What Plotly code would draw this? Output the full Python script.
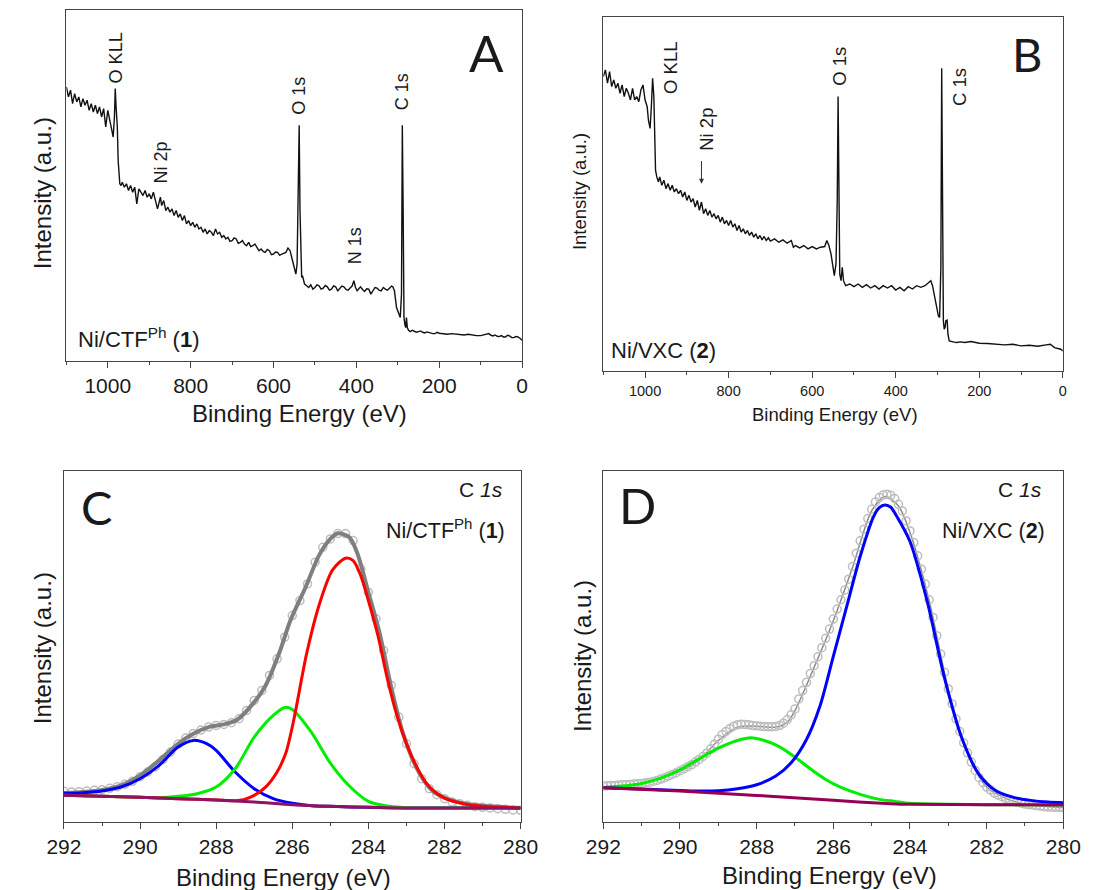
import plotly.graph_objects as go

# ---------------- Survey A: Ni/CTF^Ph (1) ----------------
A_ev = [1100,1095,1090,1085,1080,1075,1070,1065,1060,1055,1050,1045,1040,1035,1030,1025,1020,1015,1010,1005,
        1000,995,990,987,984,982,980,977,975,973,971,968,965,960,955,950,945,940,935,930,925,920,915,910,905,
        900,895,890,885,880,877,873,870,865,860,855,850,845,840,835,830,825,820,815,810,805,800,795,790,785,
        780,775,770,765,760,755,750,745,740,735,730,725,720,715,710,705,700,695,690,685,680,675,670,665,660,
        655,650,645,640,635,630,625,620,615,610,605,600,595,590,585,580,575,570,565,560,555,550,546,543,540,
        538,536,534,532,530,528,525,520,515,510,505,500,495,490,485,480,475,470,465,460,455,450,445,440,435,
        430,425,420,415,410,406,402,398,395,390,385,380,375,370,365,360,355,350,345,340,335,330,325,320,315,
        312,308,303,298,294,291,289,287,285,283,281,279,277,274,270,265,260,255,250,245,240,235,230,225,220,
        215,210,205,200,190,180,170,160,150,140,130,120,110,100,90,80,75,70,65,60,55,50,45,40,35,30,25,20,15,
        10,5,0]
A_int = [820,790,810,770,800,775,790,760,785,765,780,750,770,745,765,740,760,730,755,700,
         750,720,680,670,730,815,760,700,600,540,530,525,535,520,530,510,525,505,520,470,515,505,495,510,490,
         500,485,505,480,455,470,490,465,480,450,460,445,455,435,450,430,440,420,435,410,420,405,415,400,410,
         395,400,385,395,380,390,385,375,395,380,385,370,375,365,370,358,360,368,365,352,355,360,350,345,355,
         342,345,350,340,330,335,328,325,334,330,318,320,326,325,316,320,322,325,338,330,305,275,260,290,500,
         705,450,270,250,255,245,230,225,220,228,215,220,228,225,215,218,226,222,212,215,225,222,210,217,224,
         222,214,212,220,225,240,220,210,215,222,214,208,216,215,200,212,220,218,212,210,220,215,212,218,224,
         222,210,160,140,130,200,705,450,130,110,100,130,100,92,88,92,90,86,88,90,86,84,87,85,85,
         82,82,86,83,81,80,82,80,78,78,80,77,76,76,78,82,77,75,78,74,73,76,72,72,77,75,70,70,73,
         72,68,62]

# ---------------- Survey B: Ni/VXC (2) ----------------
B_ev = [1100,1095,1090,1085,1080,1075,1070,1065,1060,1055,1050,1045,1040,1035,1030,1025,1020,1015,1010,1005,
        1000,995,992,988,985,982,979,977,975,972,968,965,960,955,950,945,940,935,930,925,920,915,910,905,900,
        895,890,885,880,875,870,865,860,855,850,845,840,835,830,825,820,815,810,805,800,795,790,785,780,775,
        770,765,760,755,750,745,740,735,730,725,720,715,710,705,700,690,680,670,660,650,645,640,630,620,610,
        600,590,580,570,565,560,555,550,547,543,540,538,536,534,531,528,525,520,510,500,490,480,470,460,450,
        440,430,420,410,400,390,380,370,360,350,340,330,320,316,312,308,303,298,295,292,290,288,286,284,282,
        280,277,275,272,265,255,245,235,220,200,180,160,140,120,100,80,60,40,30,20,10,5,0]
B_int = [880,900,860,895,850,870,845,860,830,855,820,845,830,810,845,810,820,805,840,855,
         810,790,750,725,790,875,820,710,600,580,565,580,555,570,545,560,540,555,535,545,530,540,520,535,510,
         525,505,515,490,510,480,505,470,485,465,480,460,470,455,465,445,460,440,450,435,450,430,440,420,435,
         415,425,410,420,405,415,400,410,395,405,392,402,390,398,388,395,385,392,382,390,370,375,368,375,365,
         372,365,370,372,390,375,350,310,285,320,510,820,510,290,270,310,270,255,260,252,260,250,258,248,255,
         245,255,248,255,242,250,240,252,245,255,250,255,265,270,255,230,190,165,160,310,905,610,150,125,130,
         150,152,110,90,88,85,87,85,88,83,82,80,78,80,75,77,74,78,80,70,68,65,60]

# ---------------- C 1s, Ni/CTF^Ph (1) ----------------
C_data_ev = [292.0,291.8,291.6,291.4,291.2,291.0,290.8,290.6,290.4,290.2,290.0,289.8,289.6,289.4,289.2,289.0,
             288.8,288.6,288.4,288.2,288.0,287.8,287.6,287.4,287.2,287.0,286.8,286.6,286.4,286.2,286.0,285.8,
             285.6,285.4,285.2,285.0,284.8,284.6,284.4,284.2,284.0,283.8,283.6,283.4,283.2,283.0,282.8,282.6,
             282.4,282.2,282.0,281.8,281.6,281.4,281.2,281.0,280.8,280.6,280.4,280.2,280.0]
C_data_int = [92,90,91,93,95,97,101,106,113,122,136,150,166,188,210,234,
              252,266,276,285,290,293,298,310,335,365,395,440,490,555,620,665,
              715,780,825,850,866,866,845,760,690,610,515,410,315,235,175,130,
              100,82,70,60,55,50,46,44,42,40,38,36,35]

C_fit_ev = [292.0,291.5,291.0,290.5,290.0,289.5,289.0,288.6,288.2,287.8,287.45,287.0,286.7,286.35,286.05,285.65,
            285.3,285.0,284.8,284.5,284.3,284.0,283.7,283.4,283.1,282.7,282.3,281.6,280.8,280.0]
C_fit_int = [87,90,96,110,140,185,235,265,285,293,307,360,410,505,605,705,
             800,850,867,855,810,690,565,405,270,155,92,58,47,42]

C_bg_ev = [292.0,291.0,290.0,289.0,288.0,287.0,286.0,285.0,284.0,283.0,282.0,281.0,280.0]
C_bg_int = [80,77,74,70,66,60,52,47,44,42,42,42,42]

C_blue_ev = [292.0,291.5,291.0,290.5,290.0,289.5,289.0,288.6,288.25,288.0,287.5,287.0,286.5,286.0,285.5,285.0,
             284.0,283.0,282.0,280.0]
C_blue_int = [86,88,93,105,130,170,225,245,235,215,150,100,70,56,49,47,44,42,42,42]

C_green_ev = [292.0,291.0,290.0,289.5,289.0,288.5,288.0,287.5,287.0,286.5,286.2,286.0,285.5,285.0,284.5,284.0,
              283.5,283.0,282.0,280.0]
C_green_int = [80,77,74,73,77,85,105,160,255,320,344,338,270,177,108,62,48,43,42,42]

C_red_ev = [292.0,291.0,290.0,289.0,288.0,287.5,287.28,287.0,286.68,286.4,286.17,285.96,285.62,285.28,284.94,284.6,
            284.4,284.2,284.0,283.75,283.5,283.25,283.0,282.75,282.5,282.25,282.0,281.5,281.0,280.5,280.0]
C_red_int = [80,77,74,70,66,64,67,80,107,150,207,307,507,657,757,792,
             785,740,665,560,430,320,235,170,120,90,72,55,47,44,42]

# ---------------- C 1s, Ni/VXC (2) ----------------
D_data_ev = [292.0,291.9,291.8,291.7,291.6,291.5,291.4,291.3,291.2,291.1,291.0,290.9,290.8,290.7,290.6,290.5,
             290.4,290.3,290.2,290.1,290.0,289.9,289.8,289.7,289.6,289.5,289.4,289.3,289.2,289.1,289.0,288.9,
             288.8,288.7,288.6,288.5,288.4,288.3,288.2,288.1,288.0,287.9,287.8,287.7,287.6,287.5,287.4,287.3,
             287.2,287.1,287.0,286.9,286.8,286.7,286.6,286.5,286.4,286.3,286.2,286.1,286.0,285.9,285.8,285.7,
             285.6,285.5,285.4,285.3,285.2,285.1,285.0,284.9,284.8,284.7,284.6,284.5,284.4,284.3,284.2,284.1,
             284.0,283.9,283.8,283.7,283.6,283.5,283.4,283.3,283.2,283.1,283.0,282.9,282.8,282.7,282.6,282.5,
             282.4,282.3,282.2,282.1,282.0,281.9,281.8,281.7,281.6,281.5,281.4,281.3,281.2,281.1,281.0,280.9,
             280.8,280.7,280.6,280.5,280.4,280.3,280.2,280.1,280.0]
D_data_int = [108,109,110,110,111,112,112,113,114,115,116,118,119,122,125,129,133,138,143,148,
              154,160,166,172,180,188,197,207,220,234,249,263,272,281,288,292,294,293,292,290,
              289,288,287,286,286,287,290,297,308,322,340,370,395,420,446,470,497,524,552,580,
              610,640,668,697,730,768,808,845,880,912,940,962,975,983,985,982,972,955,935,905,
              875,840,800,760,715,668,615,560,505,450,400,355,310,272,238,208,180,155,134,118,
              105,96,87,81,76,71,67,63,60,57,54,52,51,49,48,46,45,45,44,44,43]

D_fit_ev = [292.0,291.0,290.0,289.5,289.0,288.5,288.0,287.5,287.2,287.0,286.5,286.0,285.5,285.0,284.65,284.3,
            284.0,283.5,283.0,282.5,282.0,281.5,281.0,280.0]
D_fit_int = [106,114,152,186,245,285,288,285,300,335,465,605,765,935,978,950,870,665,398,207,105,71,54,43]

D_bg_ev = [292.0,290.0,288.0,286.0,284.5,284.0,282.0,280.0]
D_bg_int = [103,93,80,65,55,53,52,51]

D_blue_ev = [292.0,291.0,290.0,289.5,289.0,288.5,288.0,287.5,287.1,286.7,286.35,286.0,285.65,285.3,284.95,284.8,
             284.65,284.5,284.35,284.0,283.55,283.1,282.65,282.2,281.75,281.3,280.85,280.4,280.0]
D_blue_int = [103,99,95,93,94,100,112,138,178,248,348,498,648,798,918,945,
              953,946,920,843,663,433,253,143,93,74,65,60,58]

D_green_ev = [292.0,291.5,291.0,290.5,290.0,289.5,289.0,288.5,288.15,287.8,287.4,287.0,286.6,286.2,285.8,285.3,
              284.8,284.4,284.0,283.0,282.0,280.0]
D_green_int = [104,108,116,132,157,190,222,245,253,245,226,195,160,128,104,83,68,62,56,53,52,51]

# ---------------- labels ----------------
A_peaks = ["O KLL", "Ni 2p", "O 1s", "N 1s", "C 1s"]
A_peak_ev = [978, 872, 537, 404, 289.5]
A_peak_int = [908, 593, 792, 345, 804]
B_peaks = ["O KLL", "Ni 2p", "O 1s", "C 1s"]
B_peak_ev = [941, 855, 535, 249]
B_peak_int = [905, 723, 910, 848]

FONT = "Liberation Sans, Arial, sans-serif"
LETTER_FONT = "Lato, Open Sans, sans-serif"
W, H = 1106, 890

fig = go.Figure()

def line(x, y, xa, ya, color, width, shape="linear"):
    fig.add_trace(go.Scatter(x=x, y=y, xaxis=xa, yaxis=ya, mode="lines",
                             line=dict(color=color, width=width, shape=shape, smoothing=0.8),
                             showlegend=False, hoverinfo="skip"))

def circles(x, y, xa, ya):
    fig.add_trace(go.Scatter(x=x, y=y, xaxis=xa, yaxis=ya, mode="markers",
                             marker=dict(symbol="circle-open", size=8, color="#bdbdbd",
                                         line=dict(width=1.5)),
                             showlegend=False, hoverinfo="skip"))

# A
line(A_ev, A_int, "x", "y", "#111111", 1.4)
# B
line(B_ev, B_int, "x2", "y2", "#111111", 1.4)
# C
circles(C_data_ev, C_data_int, "x3", "y3")
line(C_fit_ev, C_fit_int, "x3", "y3", "#7f7f7f", 4, "spline")
line(C_blue_ev, C_blue_int, "x3", "y3", "#0000ff", 3, "spline")
line(C_green_ev, C_green_int, "x3", "y3", "#00ee00", 3, "spline")
line(C_red_ev, C_red_int, "x3", "y3", "#ff0000", 3, "spline")
line(C_bg_ev, C_bg_int, "x3", "y3", "#8e1462", 3, "spline")
# D
line(D_fit_ev, D_fit_int, "x4", "y4", "#8a8a8a", 1.5, "spline")
circles(D_data_ev, D_data_int, "x4", "y4")
line(D_green_ev, D_green_int, "x4", "y4", "#00ee00", 3, "spline")
line(D_blue_ev, D_blue_int, "x4", "y4", "#0000ff", 3, "spline")
line(D_bg_ev, D_bg_int, "x4", "y4", "#990055", 3, "spline")

def xaxis(domain, anchor, rng, dtick, minor, fsize):
    return dict(domain=domain, anchor=anchor, range=rng, showline=True, mirror=True,
                linecolor="#444444", linewidth=1.3, ticks="outside", ticklen=6, tickwidth=1.2,
                tickcolor="#444444", tickmode="linear", tick0=0, dtick=dtick,
                minor=dict(dtick=minor, tick0=0, ticks="outside", ticklen=3, tickcolor="#444444", tickwidth=1),
                showgrid=False, zeroline=False,
                tickfont=dict(family=FONT, size=fsize, color="#1a1a1a"))

def yaxis(domain, anchor, rng):
    return dict(domain=domain, anchor=anchor, range=rng, showline=True, mirror=True,
                linecolor="#444444", linewidth=1.3, ticks="", showticklabels=False,
                showgrid=False, zeroline=False)

def px(x):
    return x / W

def py(y):
    return 1 - y / H

fig.update_layout(
    width=W, height=H, margin=dict(l=0, r=0, t=0, b=0),
    paper_bgcolor="white", plot_bgcolor="white",
    xaxis=xaxis([px(50), px(521)], "y", [1100, 0], 200, 100, 21),
    yaxis=yaxis([py(361), py(10)], "x", [0, 1050]),
    xaxis2=xaxis([px(605), px(1080)], "y2", [1100, 0], 200, 100, 14.5),
    yaxis2=yaxis([py(371), py(17)], "x2", [0, 1058]),
    xaxis3=xaxis([px(47.5), px(519.5)], "y3", [292, 280], 2, 1, 21),
    yaxis3=yaxis([py(822), py(471)], "x3", [0, 1054]),
    xaxis4=xaxis([px(605), px(1080.5)], "y4", [292, 280], 2, 1, 21),
    yaxis4=yaxis([py(822), py(471)], "x4", [0, 1055]),
)

ann = []
def text(t, x, y, size, xanchor="center", yanchor="middle", angle=0, family=FONT, xref="paper", yref="paper"):
    ann.append(dict(text=t, x=x, y=y, xref=xref, yref=yref, showarrow=False, xanchor=xanchor,
                    yanchor=yanchor, textangle=angle, font=dict(family=family, size=size, color="#1a1a1a")))

for t, xv, yv in zip(A_peaks, A_peak_ev, A_peak_int):
    text(t, xv, yv, 18, angle=-90, xref="x", yref="y")
for t, xv, yv in zip(B_peaks, B_peak_ev, B_peak_int):
    text(t, xv, yv, 18.5, angle=-90, xref="x2", yref="y2")

# Ni 2p arrow in B
ann.append(dict(x=865, y=560, ax=865, ay=632, xref="x2", yref="y2", axref="x2", ayref="y2",
                showarrow=True, arrowhead=2, arrowsize=1, arrowwidth=1, arrowcolor="#333333", text=""))

# sample names
text("Ni/CTF<sup>Ph</sup> (<b>1</b>)", px(60), py(354), 22, "left", "bottom")
text("Ni/VXC (<b>2</b>)", px(611), py(365), 22, "left", "bottom")
text("C <i>1s</i>", px(503), py(503), 21, "right", "bottom")
text("Ni/CTF<sup>Ph</sup> (<b>1</b>)", px(505), py(545), 21.5, "right", "bottom")
text("C <i>1s</i>", px(1061), py(503), 21, "right", "bottom")
text("Ni/VXC (<b>2</b>)", px(1064), py(545), 21.5, "right", "bottom")

# panel letters
text("A", px(484), py(52), 51, family=LETTER_FONT)
text("B", px(1043), py(54), 47, family=LETTER_FONT)
text("C", px(81), py(507), 47, family=LETTER_FONT)
text("D", px(640), py(505), 49, family=LETTER_FONT)

# axis titles
text("Binding Energy (eV)", px(291), py(413), 24)
text("Intensity (a.u.)", px(25), py(193), 24, angle=-90)
text("Binding Energy (eV)", px(844), py(415), 18.5)
text("Intensity (a.u.)", px(581), py(192), 18.5, angle=-90)
text("Binding Energy (eV)", px(274), py(877), 24)
text("Intensity (a.u.)", px(25), py(648), 24, angle=-90)
text("Binding Energy (eV)", px(839), py(875), 24)
text("Intensity (a.u.)", px(583), py(656), 24, angle=-90)

fig.update_layout(annotations=ann)
fig.write_html("out.html", config={"displayModeBar": False},
               post_script="document.body.style.margin='0';document.body.style.overflow='hidden';")
